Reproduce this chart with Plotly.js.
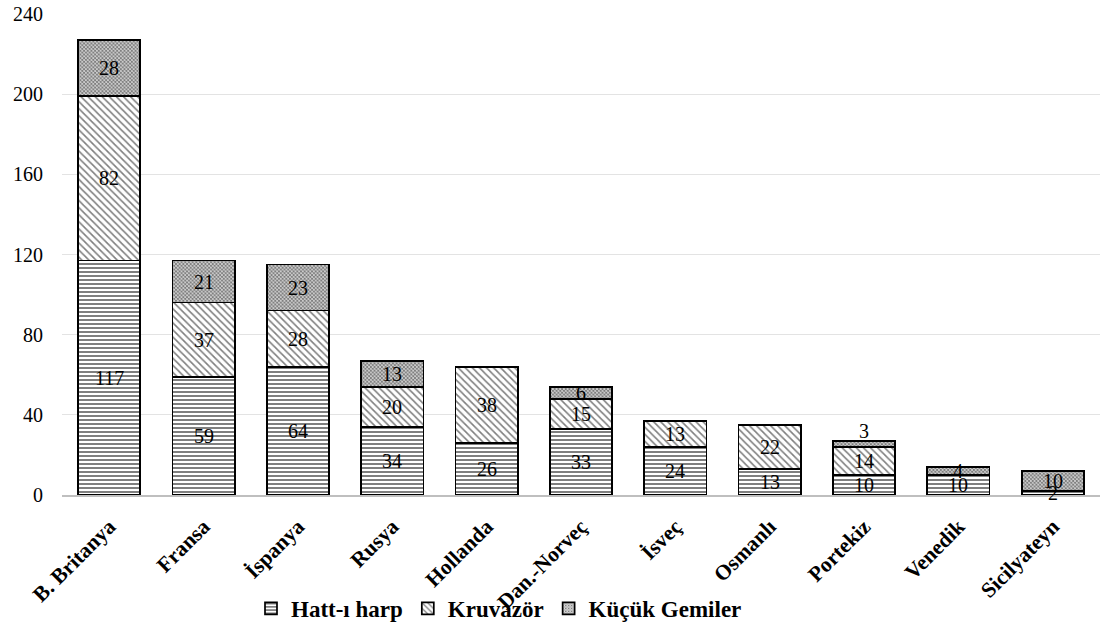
<!DOCTYPE html>
<html>
<head>
<meta charset="utf-8">
<script src="https://cdn.plot.ly/plotly-3.0.1.min.js"></script>
<style>
  html, body { margin: 0; padding: 0; background: #fff; }
  #chart { width: 1105px; height: 635px; }
</style>
</head>
<body>
<div id="chart"></div>
<script>
// Fleet strength by country, split by ship class
const countries = ["B. Britanya", "Fransa", "İspanya", "Rusya", "Hollanda", "Dan.-Norveç",
                   "İsveç", "Osmanlı", "Portekiz", "Venedik", "Sicilyateyn"];
const hattIHarp    = [117, 59, 64, 34, 26, 33, 24, 13, 10, 10, 2];
const kruvazor     = [82, 37, 28, 20, 38, 15, 13, 22, 14, 0, 0];
const kucukGemiler = [28, 21, 23, 13, 0, 6, 0, 0, 3, 4, 10];
const yTicks = [0, 40, 80, 120, 160, 200, 240];

const serif = "Liberation Serif";

function barTrace(name, values, shape, size, solidity) {
  return {
    type: "bar",
    name: name,
    x: countries,
    y: values,
    marker: {
      color: "#ffffff",
      line: { color: "#000000", width: 1.7 },
      pattern: { shape: shape, fgcolor: "#000000", bgcolor: "#ffffff",
                 size: size, solidity: solidity, fillmode: "overlay" }
    },
    hoverinfo: "x+y+name"
  };
}

const traces = [
  barTrace("Hatt-ı harp", hattIHarp, "-", 4, 0.5),
  barTrace("Kruvazör", kruvazor, "\\", 5, 0.32),
  barTrace("Küçük Gemiler", kucukGemiler, "x", 2.6, 0.7)
];

// Value labels centred in each stacked segment
const annotations = [];
const series = [hattIHarp, kruvazor, kucukGemiler];
countries.forEach((c, i) => {
  let base = 0;
  series.forEach((vals, s) => {
    const v = vals[i];
    if (v > 0) {
      // the thin top segment of Portekiz gets its label just above the bar
      const lift = (v <= 3 && s === 2) ? 13 : 0;
      annotations.push({
        x: c, y: base + v / 2, xref: "x", yref: "y",
        text: String(v), showarrow: false, yshift: lift,
        font: { family: serif, size: 20, color: "#000" }
      });
    }
    base += v;
  });
});

const layout = {
  width: 1105, height: 635,
  margin: { l: 62, r: 5, t: 14, b: 137 },
  paper_bgcolor: "#fff", plot_bgcolor: "#fff",
  barmode: "stack",
  bargap: 0.34,
  font: { family: serif, color: "#000" },
  xaxis: {
    type: "category",
    automargin: false,
    tickangle: -45,
    tickfont: { family: serif, size: 21.5, color: "#000", weight: "bold" },
    showline: true, linecolor: "#bfbfbf", linewidth: 1.5,
    ticks: "", showgrid: false, zeroline: false, ticklabelstandoff: 9
  },
  yaxis: {
    range: [0, 240],
    automargin: false,
    tickvals: yTicks,
    ticktext: yTicks.map(String),
    tickfont: { family: serif, size: 20, color: "#000" },
    showgrid: true, gridcolor: "#e3e3e3", gridwidth: 1.2,
    zeroline: false, showline: false, ticks: "", ticklabelstandoff: 18
  },
  showlegend: true,
  legend: {
    orientation: "h", traceorder: "normal",
    x: 0.421, xanchor: "center", y: -0.236, yanchor: "middle",
    bgcolor: "rgba(0,0,0,0)",
    font: { family: serif, size: 23, color: "#000", weight: "bold" },
    itemwidth: 30, tracegroupgap: 0
  },
  annotations: annotations
};

Plotly.newPlot("chart", traces, layout, { displayModeBar: false, staticPlot: true });
</script>
</body>
</html>
